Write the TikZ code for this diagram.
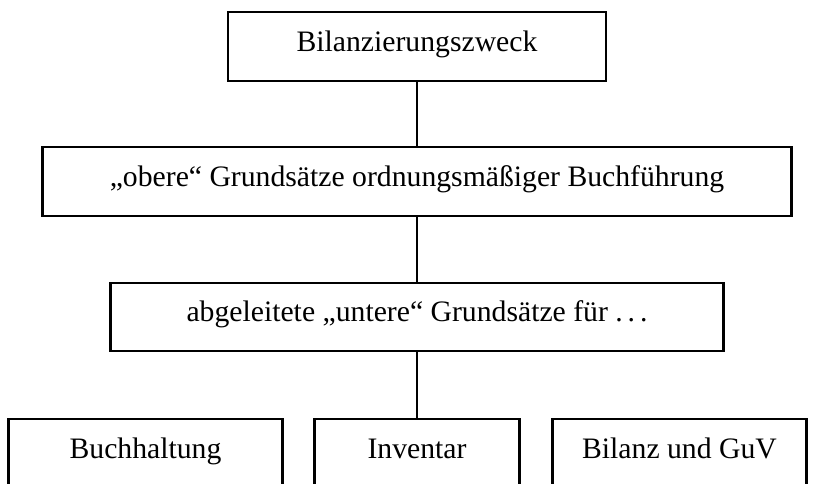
\documentclass[tikz,border=0pt]{standalone}
\usepackage{fontspec}
\setmainfont{Liberation Serif}
\usepackage{tikz}
\usetikzlibrary{positioning}

\begin{document}
\begin{tikzpicture}[node distance=33pt, kasten/.style={draw, line width=1.1pt, outer sep=0pt, inner sep=0pt, minimum height=34.5pt, text height=0.7em, text depth=0.22em, align=center, font=\fontsize{14.85pt}{18pt}\selectfont}]
        \useasboundingbox (0,0) rectangle (407pt,-241.5pt);
        \clip (0,0) rectangle (407pt,-241.5pt);
        \node[kasten, minimum width=189pt] (zweck) at (208.5pt,-23.25pt) {Bilanzierungszweck};
        \node[kasten, minimum width=374.5pt, below=of zweck] (obere) {„obere“ Grundsätze ordnungsmäßiger Buchführung};
        \node[kasten, minimum width=306.5pt, minimum height=34pt, below=33.5pt of obere] (untere) {abgeleitete „untere“ Grundsätze für .\,.\,.};
        \node[kasten, minimum width=102.5pt, minimum height=35pt, below=34pt of untere] (inventar) {Inventar};
        \node[kasten, minimum width=137pt, minimum height=35pt, left=16pt of inventar] (buchhaltung) {Buchhaltung};
        \node[kasten, minimum width=127pt, minimum height=35pt, right=16.5pt of inventar] (bilanz) {Bilanz und GuV};
        \foreach \x/\y in {zweck/obere,obere/untere,untere/inventar}{\draw[line width=1.1pt] (\x) -- (\y);}
      \end{tikzpicture}
\end{document}
